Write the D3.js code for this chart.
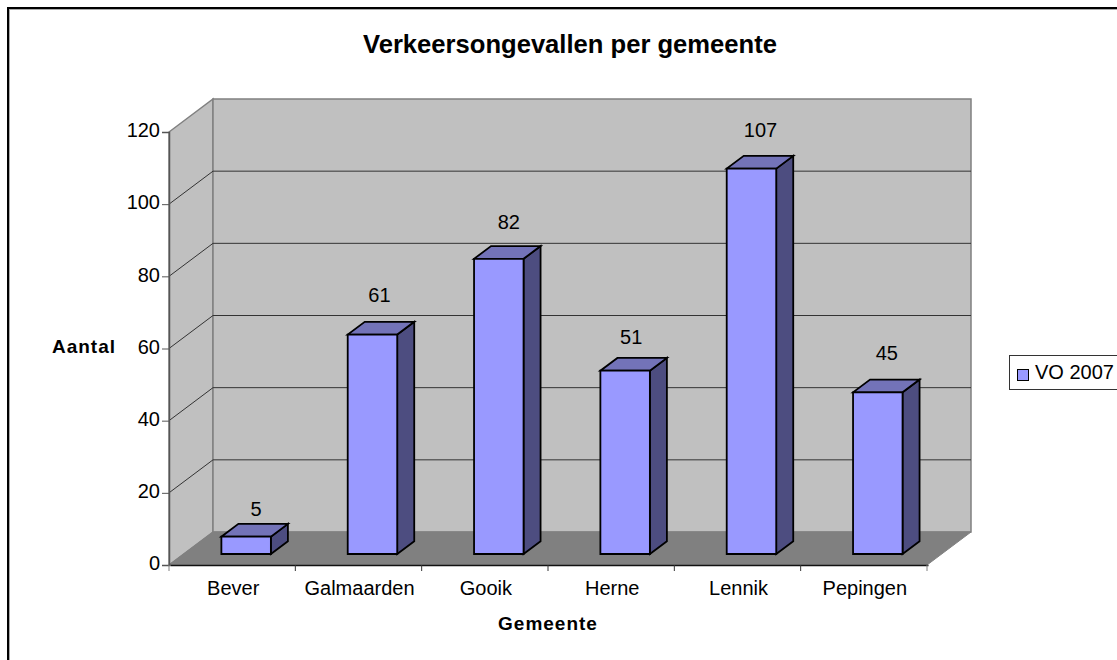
<!DOCTYPE html>
<html><head><meta charset="utf-8">
<script src="https://cdn.jsdelivr.net/npm/d3@7"></script>
<style>html,body{margin:0;padding:0;background:#fff;overflow:hidden}svg{display:block}text{font-family:"Liberation Sans",Arial,sans-serif;fill:#000}</style>
</head><body><svg id="c" width="1117" height="660"></svg>
<script>
const categories=["Bever","Galmaarden","Gooik","Herne","Lennik","Pepingen"];
const values=[5,61,82,51,107,45];
const yTicks=[0,20,40,60,80,100,120];
const seriesName="VO 2007";
const titleText="Verkeersongevallen per gemeente";
const xTitle="Gemeente", yTitle="Aantal";

const svg=d3.select("#c");
const x0=169,x1=927,yB=565,yT=132,dx=44,dy=-33;
const x=d3.scaleBand().domain(categories).range([x0,x1]);
const y=d3.scaleLinear().domain([0,120]).range([yB,yT]);
const P=(px,py,f)=>[px+dx*f,py+dy*f];
const poly=(pts,fill,stroke,sw)=>svg.append("polygon").attr("points",pts.map(p=>p.join(",")).join(" ")).attr("fill",fill).attr("stroke",stroke).attr("stroke-width",sw).attr("stroke-linejoin","miter");

// frame
svg.append("rect").attr("x",9.5).attr("y",9.5).attr("width",1200).attr("height",800).attr("fill","none").attr("stroke","#aaa").attr("stroke-width",1);
svg.append("rect").attr("x",8).attr("y",8).attr("width",1200).attr("height",800).attr("fill","none").attr("stroke","#000").attr("stroke-width",2);

// walls and floor
poly([P(x0,yB,0),P(x0,yB,1),P(x0,yT,1),P(x0,yT,0)],"#c0c0c0","#808080",1.5);
poly([P(x0,yB,1),P(x1,yB,1),P(x1,yT,1),P(x0,yT,1)],"#c0c0c0","#808080",1.5);
poly([P(x0,yB,0),P(x1,yB,0),P(x1,yB,1),P(x0,yB,1)],"#808080","#808080",1);

// gridlines
yTicks.filter(t=>t>0&&t<120).forEach(t=>{
  const a=P(x0,y(t),0),b=P(x0,y(t),1),c=P(x1,y(t),1);
  svg.append("polyline").attr("points",[a,b,c].map(p=>p.join(",")).join(" ")).attr("fill","none").attr("stroke","#333").attr("stroke-width",1);
});

// axes
const axY=svg.append("g").attr("transform",`translate(${x0},0)`).call(d3.axisLeft(y).tickValues(yTicks).tickSize(7).tickPadding(2));
axY.select(".domain").attr("stroke","#555").attr("stroke-width",1.5);
axY.selectAll("line").attr("stroke","#555");
axY.selectAll("text").style("font-family",'"Liberation Sans"').style("font-size","20px").attr("dy","0.24em");
const axX=svg.append("g").attr("transform",`translate(1,${yB})`).call(d3.axisBottom(x).tickSize(0).tickPadding(16));
axX.select(".domain").attr("stroke","#111").attr("stroke-width",1.5);
axX.selectAll("text").style("font-family",'"Liberation Sans"').style("font-size","20px");
d3.range(categories.length+1).forEach(i=>{
  const px=x0+i*x.step();
  svg.append("line").attr("x1",px).attr("x2",px).attr("y1",yB).attr("y2",yB+6).attr("stroke",i==0||i==categories.length?"#808080":"#333");
});

// bars
const w=49.5, labelGap=[15,27,24,21,26,27], labelShift=[-6,-9,-6,-10,-7,-7];
categories.forEach((c,i)=>{
  const v=values[i];
  const L=x(c)+x.bandwidth()/2-w/2-0.7, R=L+w, B=y(0), T=y(v)+0.7;
  const g0=1/3,g1=0.72;
  const front=[P(L,B,g0),P(R,B,g0),P(R,T,g0),P(L,T,g0)];
  const side=[P(R,B,g0),P(R,B,g1),P(R,T,g1),P(R,T,g0)];
  const top=[P(L,T,g0),P(R,T,g0),P(R,T,g1),P(L,T,g1)];
  poly(side,"#4d4d80","#000",1.8);
  poly(top,"#7373b8","#000",1.8);
  poly(front,"#9999ff","#000",1.8);
  svg.append("text").attr("x",P(L+w/2,T,g1)[0]-1+labelShift[i]).attr("y",P(L,T,g1)[1]-labelGap[i]).attr("dy","0.36em").attr("text-anchor","middle").attr("font-size",20).text(v);
});

// titles
svg.append("text").attr("x",570).attr("y",53).attr("text-anchor","middle").attr("font-size",25.6).attr("font-weight","bold").text(titleText);
svg.append("text").attr("x",84).attr("y",353).attr("text-anchor","middle").attr("font-size",19).attr("font-weight","bold").attr("letter-spacing",1).text(yTitle);
svg.append("text").attr("x",548).attr("y",630).attr("text-anchor","middle").attr("font-size",19).attr("font-weight","bold").attr("letter-spacing",1).text(xTitle);

// legend
svg.append("rect").attr("x",1009.5).attr("y",355.5).attr("width",120).attr("height",34).attr("fill","#fff").attr("stroke","#333");
svg.append("rect").attr("x",1017.5).attr("y",369.5).attr("width",11).attr("height",11).attr("fill","#9999ff").attr("stroke","#000").attr("stroke-width",1);
svg.append("text").attr("x",1035).attr("y",379).attr("font-size",20).text(seriesName);
</script></body></html>
